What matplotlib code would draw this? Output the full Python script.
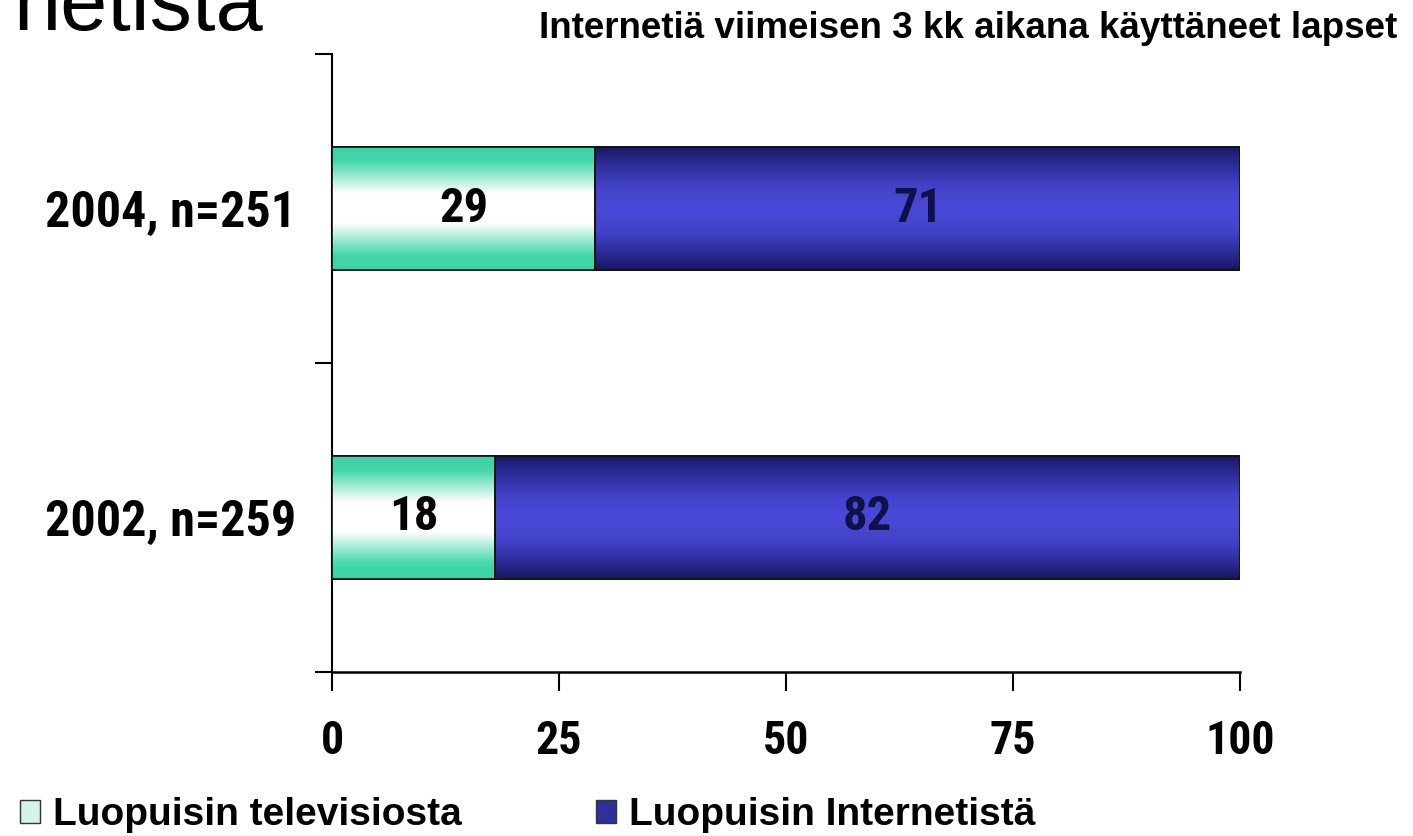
import numpy as np
import matplotlib
matplotlib.use("Agg")
import matplotlib.pyplot as plt
from matplotlib.colors import LinearSegmentedColormap
from matplotlib.patches import Patch

categories = ['2004, n=251', '2002, n=259']
tv_values = [29, 18]
net_values = [71, 82]
series_names = ['Luopuisin televisiosta', 'Luopuisin Internetistä']
xticks = [0, 25, 50, 75, 100]
title_right = 'Internetiä viimeisen 3 kk aikana käyttäneet lapset'
title_left = 'netistä'

plt.rcParams['font.family'] = ['Liberation Sans', 'DejaVu Sans']
NARROW = ['Roboto Condensed', 'Liberation Sans', 'DejaVu Sans']

fig = plt.figure(figsize=(14.13, 8.36), dpi=100)
ax = fig.add_axes([332/1413, 1-672/836, (1240-332)/1413, (672-54)/836])

y = np.arange(len(categories))
h = 0.4
b1 = ax.barh(y, tv_values, height=h, color='#c8efe2', edgecolor='black', linewidth=1.2, zorder=3)
b2 = ax.barh(y, net_values, left=tv_values, height=h, color='#3a3ab8', edgecolor='black', linewidth=1.2, zorder=3)

teal = LinearSegmentedColormap.from_list('teal', [(0, '#3dd2a4'), (0.12, '#44d6aa'), (0.38, '#ffffff'),
                                                   (0.62, '#ffffff'), (0.88, '#44d6aa'), (1, '#3dd2a4')])
blue = LinearSegmentedColormap.from_list('blue', [(0, '#18185c'), (0.1, '#26268a'), (0.32, '#4242c8'),
                                                   (0.5, '#4a4ad8'), (0.7, '#4242c8'), (0.9, '#26268a'), (1, '#18185c')])
grad = np.linspace(0, 1, 256).reshape(-1, 1)
for bars, cmap in ((b1, teal), (b2, blue)):
    for p in bars:
        x0, y0 = p.get_x(), p.get_y()
        im = ax.imshow(grad, cmap=cmap, aspect='auto', extent=(x0, x0 + p.get_width(), y0, y0 + p.get_height()),
                       origin='lower', zorder=3.5, interpolation='bicubic')
        im.set_clip_path(p)
    for p in bars:
        q = plt.Rectangle((p.get_x(), p.get_y()), p.get_width(), p.get_height(), fill=False,
                          edgecolor='#111111', linewidth=1.2, zorder=4)
        ax.add_patch(q)

for i in range(len(categories)):
    ax.text(tv_values[i] / 2, y[i], str(tv_values[i]), ha='center', va='center', fontsize=35,
            fontweight='bold', color='black', zorder=5, family=NARROW)
    ax.text(tv_values[i] + net_values[i] / 2, y[i], str(net_values[i]), ha='center', va='center', fontsize=35,
            fontweight='bold', color='#10104a', zorder=5, family=NARROW)

ax.set_xlim(0, 100)
ax.set_ylim(1.5, -0.5)
ax.set_xticks(xticks)
ax.set_xticklabels([str(t) for t in xticks], fontsize=33, fontweight='bold', family=NARROW)
ax.set_yticks(y)
ax.set_yticklabels(categories, fontsize=36, fontweight='bold', family=NARROW)
ax.set_yticks([-0.5, 0.5, 1.5], minor=True)
ax.tick_params(axis='y', which='major', length=0, pad=26)
ax.tick_params(axis='y', which='minor', length=12, width=1.5, direction='out')
ax.tick_params(axis='x', length=14, width=1.5, direction='out', pad=20)
for s in ('top', 'right'):
    ax.spines[s].set_visible(False)
ax.spines['left'].set_linewidth(1.5)
ax.spines['bottom'].set_linewidth(1.8)

fig.text(1397/1413, 1-28/836, title_right, ha='right', va='center', fontsize=26.5, fontweight='bold')
fig.text(13/1413, 1-30/836, title_left, ha='left', va='baseline', fontsize=61)

handles = [Patch(facecolor='#d4f2e8', edgecolor='#333333', linewidth=1.0),
           Patch(facecolor='#30309c', edgecolor='#333333', linewidth=1.0)]
fig.legend(handles, series_names, loc='center left', bbox_to_anchor=(20/1413, 1-815/836), ncol=2, frameon=False,
           prop={'size': 28, 'weight': 'bold'}, handlelength=0.52, handleheight=0.55, handletextpad=0.33,
           columnspacing=3.45, borderaxespad=0, borderpad=0)

fig.savefig('out.png', dpi=100)
